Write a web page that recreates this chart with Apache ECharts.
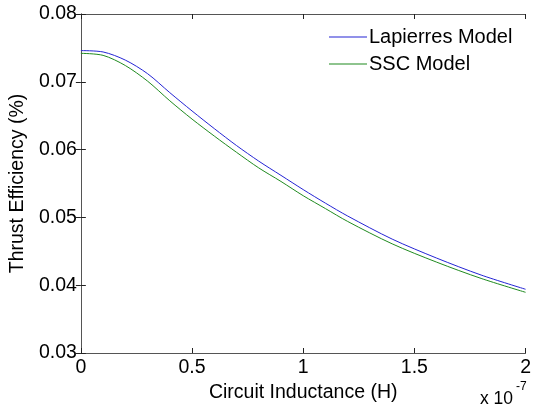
<!DOCTYPE html>
<html>
<head>
<meta charset="utf-8">
<script src="https://cdn.jsdelivr.net/npm/echarts@6/dist/echarts.min.js"></script>
<style>html,body{margin:0;padding:0;background:#fff}#c{width:534px;height:408px}</style>
</head>
<body>
<div id="c"></div>
<script>
// x in units of 1e-7 H
const inductance = [0, 0.1, 0.2, 0.3, 0.4, 0.5, 0.6, 0.7, 0.8, 0.9, 1.0, 1.1, 1.2, 1.4, 1.6, 1.8, 2.0];
const lapierres  = [0.0746, 0.0744, 0.0732, 0.0712, 0.0684, 0.0657, 0.0631, 0.0606, 0.0583, 0.0562, 0.0541, 0.0521, 0.0502, 0.0468, 0.0440, 0.0415, 0.0394];
const ssc        = [0.0742, 0.0739, 0.0724, 0.0701, 0.0672, 0.0645, 0.0620, 0.0596, 0.0573, 0.0553, 0.0532, 0.0513, 0.0494, 0.0461, 0.0434, 0.0410, 0.03895];
const xTicks = [0, 0.5, 1, 1.5, 2];
const yTicks = [0.03, 0.04, 0.05, 0.06, 0.07, 0.08];
const seriesNames = ['Lapierres Model', 'SSC Model'];

const FONT = 'Liberation Sans, Arial, sans-serif';
const chart = echarts.init(document.getElementById('c'));
const boxColor = '#555';
const pair = (xs, ys) => xs.map((x, i) => [x, ys[i]]);
const commonAxis = {
  axisLine: { show: true, lineStyle: { color: boxColor, width: 1 } },
  axisTick: { show: true, inside: true, length: 5, lineStyle: { color: '#222' } },
  splitLine: { show: false }
};
chart.setOption({
  animation: false,
  backgroundColor: '#fff',
  grid: { left: 80, right: 6, top: 14, bottom: 55 },
  legend: {
    data: seriesNames,
    orient: 'vertical',
    left: 329, top: 27, padding: 0,
    itemWidth: 38, itemHeight: 1, itemGap: 7,
    textStyle: { fontFamily: FONT, fontSize: 20, lineHeight: 20, color: '#000', padding: [0, 0, 0, -3] },
    icon: 'rect'
  },
  xAxis: [
    Object.assign({}, commonAxis, {
      type: 'value', min: xTicks[0], max: xTicks[xTicks.length - 1], interval: 0.5,
      position: 'bottom',
      axisLabel: { fontFamily: FONT, fontSize: 19.5, color: '#000', margin: 5,
        formatter: v => String(v) },
      name: 'Circuit Inductance (H)', nameLocation: 'middle', nameGap: 25,
      nameTextStyle: { fontFamily: FONT, fontSize: 19.5, color: '#000' }
    }),
    Object.assign({}, commonAxis, {
      type: 'value', min: xTicks[0], max: xTicks[xTicks.length - 1], interval: 0.5,
      position: 'top', axisLabel: { show: false }
    })
  ],
  yAxis: [
    Object.assign({}, commonAxis, {
      type: 'value', min: yTicks[0], max: yTicks[yTicks.length - 1], interval: 0.01,
      position: 'left',
      axisLabel: { fontFamily: FONT, fontSize: 19.5, color: '#000', margin: 4,
        formatter: v => v.toFixed(2) },
      name: 'Thrust Efficiency (%)', nameLocation: 'middle', nameGap: 49,
      nameTextStyle: { fontFamily: FONT, fontSize: 19.5, color: '#000' }
    }),
    Object.assign({}, commonAxis, {
      type: 'value', min: yTicks[0], max: yTicks[yTicks.length - 1], interval: 0.01,
      position: 'right', axisLabel: { show: false }
    })
  ],
  graphic: [
    { type: 'text', left: 480, top: 390,
      style: { text: 'x 10', font: '17.5px ' + FONT, fill: '#000' } },
    { type: 'text', left: 516, top: 381,
      style: { text: '-7', font: '12px ' + FONT, fill: '#000' } }
  ],
  series: [
    { name: seriesNames[0], type: 'line', smooth: 0.3, symbol: 'none',
      data: pair(inductance, lapierres), lineStyle: { color: '#2424d4', width: 1 }, itemStyle: { color: '#2424d4' } },
    { name: seriesNames[1], type: 'line', smooth: 0.3, symbol: 'none',
      data: pair(inductance, ssc), lineStyle: { color: '#1f8a1f', width: 1 }, itemStyle: { color: '#1f8a1f' } }
  ]
});
</script>
</body>
</html>
